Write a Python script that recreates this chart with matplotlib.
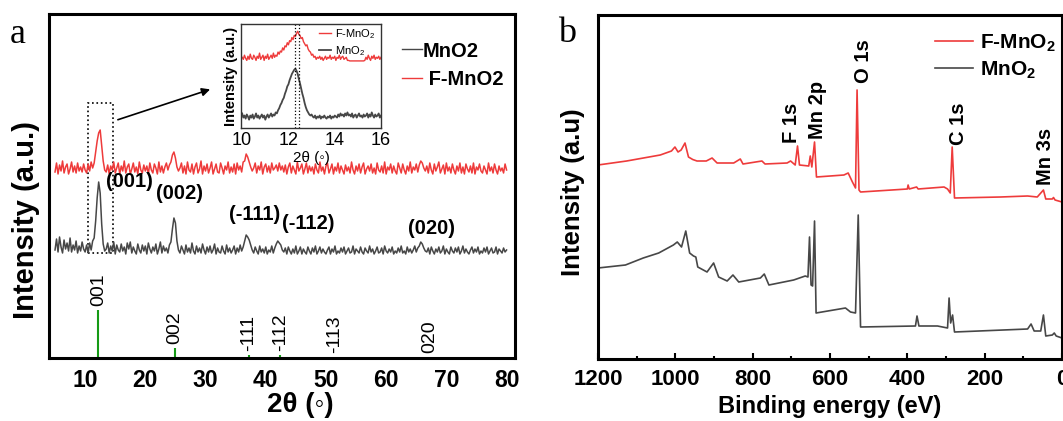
import numpy as np
import matplotlib
matplotlib.use('Agg')
import matplotlib.pyplot as plt
from matplotlib.patches import Rectangle
from matplotlib.lines import Line2D
from matplotlib.ticker import MultipleLocator

plt.rcParams['font.family'] = ['Liberation Sans', 'DejaVu Sans']
plt.rcParams['mathtext.default'] = 'regular'

# ---------------- data: XRD (panel a) ----------------
xrd_2theta = np.linspace(5, 80, 301)   # 0.25 deg steps

mno2_xrd = [
    108, 119, 106, 121, 111, 105, 118, 109, 115, 107, 120, 106, 113, 108, 117, 105, 112, 107, 116, 109,
    106, 113, 105, 115, 108, 117,
    120, 137, 160, 176, 165, 134, 114, 107,
    109, 115, 105, 112, 107, 116, 104, 113, 108, 106,
    114, 107, 111, 104, 115, 109, 116, 105, 111, 107,
    104, 114, 108, 105, 113, 107, 112, 104, 115, 109,
    105, 111, 107, 114, 104, 109, 116, 105, 112, 107,
    110, 105, 113,
    116, 129, 140, 135, 117, 108,
    105, 112, 108, 104, 113, 106, 110, 105, 115, 107,
    104, 112, 106, 110, 105, 114, 108, 104, 111, 106,
    112, 105, 108, 114, 104, 110, 106, 105, 112, 107,
    104, 113, 106, 110, 105, 108, 112, 104, 110, 106,
    113, 107, 111,
    117, 123, 121, 118, 113, 108,
    105, 111, 107, 104, 112, 106, 109, 105, 111, 104, 108, 106, 112, 105, 110,
    114, 117, 115, 113, 108,
    106, 110, 104, 111, 107, 104, 109, 105, 112, 104,
    107, 111, 104, 109, 106, 104, 111, 107, 104, 110,
    106, 112, 104, 107, 111, 105, 109, 106, 104, 108,
    111, 104, 109, 106, 112, 104, 107, 105, 110, 106,
    111, 104, 107, 110, 105, 106, 112, 104, 109, 107,
    105, 111, 106, 104, 110, 107, 105, 112, 106, 109,
    104, 107, 111, 105, 106, 110, 104, 112, 107, 105,
    109, 106, 111, 104, 107, 105, 110, 106, 112, 105,
    107, 104, 111, 106, 109, 105, 108, 112, 106, 110,
    112, 116, 114, 110, 107,
    106, 110, 104, 111, 107, 104, 109, 106, 111, 105,
    107, 112, 104, 109, 106, 104, 111, 107, 105, 110,
    106, 111, 104, 107, 112, 105, 109, 106, 104, 108,
    111, 105, 109, 106, 111, 104, 107, 105, 110, 106,
    111, 104, 107, 110, 105, 106, 111, 104, 109, 107,
    105, 110, 106, 108,
]

fmno2_xrd = [
    186, 195, 184, 193, 187, 197, 185, 191, 194, 184, 189, 196, 186, 192, 185, 195, 187, 191, 186, 194,
    188, 185, 194, 187, 196, 190,
    195, 206, 217, 225, 228, 213, 197, 188,
    186, 193, 184, 192, 188, 196, 185, 190, 195, 184,
    192, 187, 197, 185, 191, 194, 184, 189, 195, 186,
    191, 184, 196, 188, 185, 193, 187, 192, 184, 195,
    188, 185, 194, 190, 184, 196, 186, 192, 185, 191,
    195, 188, 193,
    196, 203, 206, 200, 191, 187,
    190, 195, 185, 192, 184, 196, 188, 186, 194, 184,
    191, 195, 185, 189, 197, 184, 192, 187, 194, 185,
    190, 196, 184, 189, 194, 186, 185, 195, 190, 184,
    192, 188, 196, 185, 191, 186, 194, 184, 195, 188,
    192, 186, 196,
    197, 204, 201, 196, 191, 187,
    190, 195, 185, 192, 188, 196, 184, 191, 194, 186, 192, 185, 195, 188, 190,
    193, 187, 195, 188, 192,
    186, 193, 184, 191, 195, 185, 192, 188, 184, 196,
    187, 190, 194, 184, 189, 195, 185, 192, 187, 191,
    184, 194, 188, 185, 196, 187, 191, 184, 192, 195,
    185, 189, 194, 184, 191, 187, 195, 185, 192, 188,
    184, 193, 187, 191, 185, 196, 188, 184, 192, 187,
    194, 185, 191, 195, 184, 189, 192, 187, 194, 185,
    190, 184, 195, 188, 186, 192, 185, 196, 184, 191,
    188, 194, 185, 192, 187, 184, 195, 190, 185, 194,
    188, 184, 192, 187, 196, 185, 191, 188, 194, 186,
    193, 197, 195, 190, 187,
    192, 185, 195, 188, 184, 194, 187, 191, 196, 185,
    189, 193, 184, 195, 187, 191, 185, 194, 188, 184,
    192, 187, 195, 185, 191, 184, 194, 189, 186, 192,
    185, 195, 184, 191, 188, 194, 187, 185, 192, 188,
    184, 195, 187, 191, 185, 194, 188, 184, 192, 187,
    190, 185, 194, 188,
]

# standard pattern sticks
ref_pos = [12.2, 24.9, 37.2, 42.4, 51.4, 67.2]
ref_int = [48, 10, 3, 3, 0.5, 1]
ref_hkl = ['001', '002', '-111', '-112', '-113', '020']

# peak indexing labels (text, 2theta, y)
hkl_text = ['(001)', '(002)', '(-111)', '(-112)', '(020)']
hkl_x = [13.4, 21.8, 33.9, 42.7, 63.7]
hkl_y = [177, 165, 144, 135, 130]

# inset: zoom of the (001) peak, normalised intensity
inset_2theta = np.linspace(10, 16, 121)
inset_f = [
    0.68, 0.66, 0.70, 0.67, 0.65, 0.69, 0.66, 0.71, 0.67, 0.66, 0.70, 0.68, 0.65, 0.69, 0.67, 0.72,
    0.66, 0.68, 0.70, 0.65, 0.69, 0.67, 0.71, 0.66, 0.68, 0.70, 0.67, 0.72, 0.68, 0.70, 0.69, 0.73, 0.71,
    0.74, 0.73, 0.77, 0.75, 0.79, 0.78, 0.82, 0.80, 0.84, 0.83, 0.87, 0.85, 0.89, 0.88, 0.91, 0.93,
    0.90, 0.89, 0.86, 0.87, 0.83, 0.81, 0.79, 0.80, 0.76, 0.74, 0.73, 0.70, 0.71, 0.68, 0.69, 0.66, 0.68,
    0.67, 0.69, 0.66, 0.68, 0.65, 0.67, 0.69, 0.66, 0.68, 0.67, 0.70, 0.66, 0.68, 0.67, 0.69, 0.65,
    0.68, 0.67, 0.70, 0.66, 0.68, 0.69, 0.66, 0.67, 0.68, 0.65,
    0.65, 0.645, 0.645, 0.645, 0.645, 0.645, 0.645, 0.645, 0.645, 0.645, 0.645, 0.645, 0.645, 0.645, 0.65,
    0.68, 0.66, 0.70, 0.67, 0.65, 0.69, 0.67, 0.70, 0.66, 0.68, 0.67, 0.69, 0.66, 0.68,
]
inset_m = [
    0.14, 0.10, 0.12, 0.09, 0.13, 0.11, 0.08, 0.12, 0.10, 0.13, 0.09, 0.11, 0.14, 0.10, 0.12, 0.09,
    0.11, 0.13, 0.10, 0.12, 0.08, 0.11, 0.13, 0.10, 0.12, 0.14, 0.11, 0.13, 0.12, 0.15, 0.14, 0.17,
    0.19, 0.22, 0.24, 0.27, 0.29, 0.33, 0.36, 0.40, 0.42, 0.46, 0.49, 0.52, 0.54, 0.56, 0.57,
    0.55, 0.52, 0.47, 0.43, 0.38, 0.33, 0.29, 0.24, 0.20, 0.17, 0.15, 0.13, 0.12, 0.13, 0.11,
    0.10, 0.12, 0.09, 0.11, 0.10, 0.12, 0.09, 0.11, 0.10, 0.12,
    0.10, 0.09, 0.11, 0.10, 0.12, 0.09, 0.11, 0.10, 0.12, 0.11,
    0.10, 0.13, 0.11, 0.14, 0.12, 0.13, 0.11, 0.14, 0.12, 0.15,
    0.12, 0.13, 0.11, 0.14, 0.10, 0.12, 0.13, 0.10, 0.12, 0.14,
    0.11, 0.12, 0.10, 0.13, 0.11, 0.12, 0.14, 0.10, 0.13, 0.11,
    0.15, 0.12, 0.10, 0.13, 0.11, 0.12, 0.14, 0.10, 0.12,
]
inset_marks = [12.3, 12.45]

# ---------------- data: XPS survey (panel b) ----------------
be_f = [1200, 1126, 1039, 1010, 1001, 993, 985, 975, 966, 955, 944, 920, 905, 892, 849, 832, 825,
        776, 768, 711, 702, 690, 684, 679, 655, 651, 647, 640, 635, 564, 553, 542, 534, 530, 525,
        521, 400, 398, 395, 376, 372, 305, 296, 289, 284, 278, 159, 89, 64, 48, 42, 25, 22, 18, 0]
xps_f = [194, 198, 204, 208, 212, 207, 209, 216, 202, 199.5, 198, 198, 201, 196, 196, 200, 195,
         198, 195, 196, 198, 194, 213, 194, 193, 203, 192, 217, 182, 184, 186, 177, 171, 269, 169,
         167, 170, 174, 170, 172, 170, 172, 170, 166, 212, 161, 162, 163, 162, 169, 160, 160, 161.5, 159, 157]

be_m = [1200, 1129, 1083, 1043, 1005, 995, 984, 973, 963, 953, 947, 942, 918, 901, 888, 866, 851,
        836, 780, 770, 758, 694, 664, 657, 653, 649, 645, 640, 636, 560, 547, 534, 527, 521, 379,
        375, 370, 322, 296, 292, 288, 283, 278, 89, 80, 72, 55, 48, 42, 25, 20, 15, 0]
xps_m = [91, 94, 101, 106, 114, 117, 112, 128, 106, 103, 102, 92, 87, 96, 82, 78, 84,
         77, 81, 85, 74, 79, 83, 82, 122, 74, 73, 138, 46, 51, 47, 46, 144, 32, 33,
         43, 33, 33, 31, 61, 36, 44, 27, 30, 35, 28, 28, 44, 23, 24, 26, 23, 21]

xps_peaks = ['F 1s', 'Mn 2p', 'O 1s', 'C 1s', 'Mn 3s']
xps_peak_x = [700, 633, 513, 267, 42]
xps_peak_y = [216, 220, 276, 214, 174]

RED = '#ee3b3b'
GREY = '#474747'

fig = plt.figure(figsize=(10.63, 4.21), dpi=100)

# ---------------- panel a ----------------
ax1 = fig.add_axes([49 / 1063, 63 / 421, 466 / 1063, 344 / 421])
ax1.plot(xrd_2theta, mno2_xrd, color=GREY, lw=1.1)
ax1.plot(xrd_2theta, fmno2_xrd, color=RED, lw=1.1)
ax1.vlines(ref_pos, 0, ref_int, color='#159a15', lw=1.5)
for p, h, t in zip(ref_pos, ref_int, ref_hkl):
    ax1.annotate(t, (p, h), xytext=(0, 3), textcoords='offset points', rotation=90,
                 ha='center', va='bottom', fontsize=14)
for t, x, y in zip(hkl_text, hkl_x, hkl_y):
    ax1.text(x, y, t, fontsize=14.5, fontweight='bold', ha='left', va='center')

ax1.add_patch(Rectangle((10.46, 104.6), 4.1, 150.4, fill=False, ls=':', lw=1.2, ec='k'))
ax1.annotate('', xy=(31.2, 269.5), xytext=(15.0, 237.4),
             arrowprops=dict(arrowstyle='-|>', color='k', lw=1.2, mutation_scale=12))

ax1.set_xlim(4, 81.4)
ax1.set_ylim(0, 344)
ax1.set_yticks([])
ax1.set_xticks(range(10, 81, 10))
ax1.tick_params(axis='x', length=0, pad=8, labelsize=16.5)
for lab in ax1.get_xticklabels():
    lab.set_fontweight('bold')
for s in ax1.spines.values():
    s.set_linewidth(2.2)
ax1.set_xlabel('2θ (◦)', fontsize=20, fontweight='bold')
ax1.xaxis.set_label_coords(0.539, -0.10)
ax1.set_ylabel('Intensity (a.u.)', fontsize=21, fontweight='bold')
ax1.yaxis.set_label_coords(-0.02, 0.40)

leg1 = ax1.legend([Line2D([], [], color=GREY, lw=1), Line2D([], [], color=RED, lw=1)],
                  ['MnO2', ' F-MnO2'], loc='upper left', bbox_to_anchor=(0.757, 0.92),
                  frameon=False, borderpad=0, borderaxespad=0, handlelength=1.0,
                  handletextpad=0.05, labelspacing=0.45, prop={'size': 14.5, 'weight': 'bold'})

# inset
axi = fig.add_axes([241 / 1063, 293 / 421, 140 / 1063, 104 / 421])
axi.plot(inset_2theta, inset_f, color=RED, lw=1.0, label='F-MnO$_2$')
axi.plot(inset_2theta, inset_m, color=GREY, lw=1.3, label='MnO$_2$')
for m in inset_marks:
    axi.axvline(m, color='k', ls=':', lw=0.9)
axi.set_xlim(9.95, 16)
axi.set_ylim(0, 1)
axi.set_yticks([])
axi.set_xticks([10, 12, 14, 16])
axi.tick_params(axis='x', length=0, pad=3, labelsize=13)
for s in axi.spines.values():
    s.set_linewidth(1.0)
    s.set_color('#333333')
axi.set_xlabel('2θ (◦)', fontsize=11, labelpad=1)
axi.set_ylabel('Intensity (a.u.)', fontsize=10.5, fontweight='bold', labelpad=2)
axi.legend(loc='upper left', bbox_to_anchor=(0.56, 0.97), frameon=False, borderpad=0,
           borderaxespad=0, handlelength=1.0, handletextpad=0.4, labelspacing=0.3,
           prop={'size': 8})

# ---------------- panel b ----------------
ax2 = fig.add_axes([598 / 1063, 62 / 421, 464 / 1063, 344 / 421])
ax2.plot(be_f, xps_f, color=RED, lw=1.2, label='F-MnO$_2$')
ax2.plot(be_m, xps_m, color=GREY, lw=1.2, label='MnO$_2$')
for t, x, y in zip(xps_peaks, xps_peak_x, xps_peak_y):
    ax2.text(x, y, t, rotation=90, ha='center', va='bottom', fontsize=14.5, fontweight='bold')
ax2.set_xlim(1200, 0)
ax2.set_ylim(0, 344)
ax2.set_yticks([])
ax2.set_xticks(range(0, 1201, 200))
ax2.xaxis.set_minor_locator(MultipleLocator(100))
ax2.tick_params(axis='x', which='major', direction='in', length=4.3, width=1.5, pad=7, labelsize=16)
ax2.tick_params(axis='x', which='minor', direction='in', length=2.2, width=1.5)
for lab in ax2.get_xticklabels():
    lab.set_fontweight('bold')
for s in ax2.spines.values():
    s.set_linewidth(2.2)
ax2.set_xlabel('Binding energy (eV)', fontsize=17, fontweight='bold')
ax2.xaxis.set_label_coords(0.5, -0.105)
ax2.set_ylabel('Intensity (a.u)', fontsize=18.5, fontweight='bold')
ax2.yaxis.set_label_coords(-0.028, 0.485)
ax2.legend(loc='upper left', bbox_to_anchor=(0.726, 0.95), frameon=False, borderpad=0,
           borderaxespad=0, handlelength=1.85, handletextpad=0.32, labelspacing=0.3,
           prop={'size': 15, 'weight': 'bold'})

fig.text(18 / 1063, 1 - 43 / 421, 'a', family='Liberation Serif', fontsize=26, ha='center', va='baseline')
fig.text(567 / 1063, 1 - 42 / 421, 'b', family='Liberation Serif', fontsize=26, ha='center', va='baseline')

fig.savefig('out.png', dpi=100)
